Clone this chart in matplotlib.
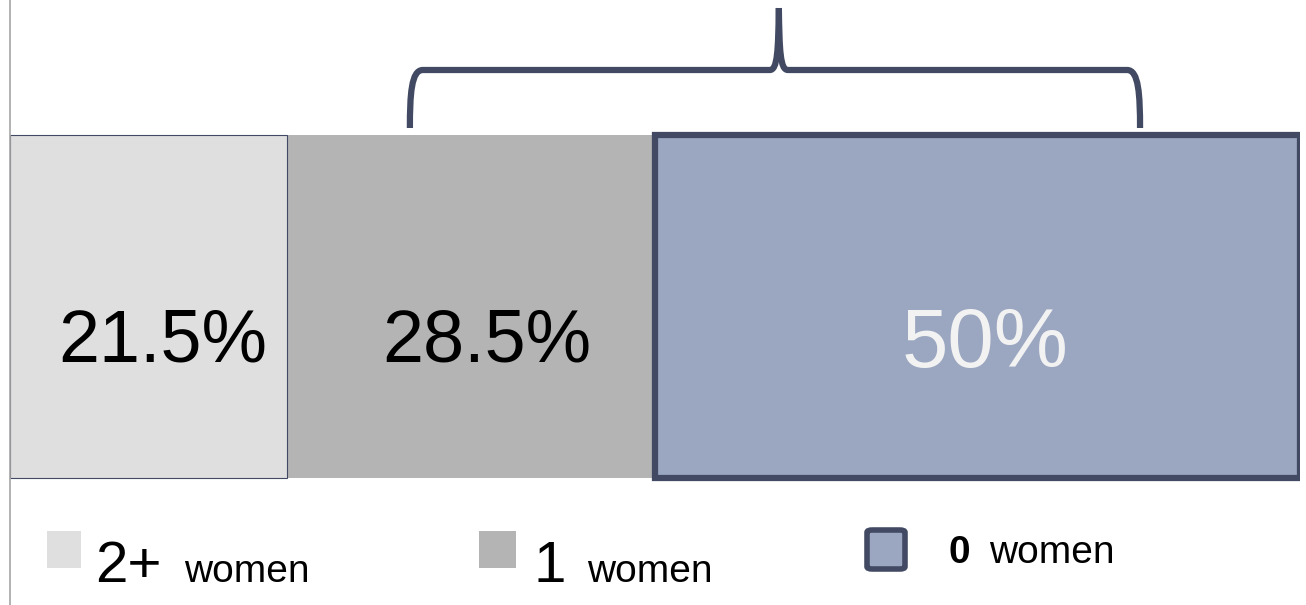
import matplotlib
matplotlib.use("Agg")
import matplotlib.pyplot as plt
from matplotlib.patches import Rectangle, FancyBboxPatch
from matplotlib.path import Path
from matplotlib.patches import PathPatch

plt.rcParams['font.family'] = ['Liberation Sans', 'DejaVu Sans']

categories = ["2+ women", "1 women", "0 women"]
values = [21.5, 28.5, 50.0]
labels = ["21.5%", "28.5%", "50%"]
colors = ["#DFDFDF", "#B4B4B4", "#9BA7C1"]
text_colors = ["#000000", "#000000", "#F2F2F2"]
dark = "#414A62"

W, H = 1306, 605
fig = plt.figure(figsize=(W / 100, H / 100), dpi=100)
ax = fig.add_axes([10 / W, 0, 1290 / W, 1])
ax.set_xlim(0, sum(values))
ax.set_ylim(H, 0)

bar_y = 306.5
bar_h = 343
left = 0
zorders = [2.5, 2, 3]
for i, (v, c) in enumerate(zip(values, colors)):
    if i == 0:
        ec, lw = dark, 0.8
    elif i == 1:
        ec, lw = "none", 0
    else:
        ec, lw = dark, 4.5
    ax.barh(bar_y, v, left=left, height=bar_h, color=c, edgecolor=ec,
            linewidth=lw, zorder=zorders[i])
    left += v

# value labels
centers = []
acc = 0
for v in values:
    centers.append(acc + v / 2)
    acc += v
sizes = [53, 53, 60]
offsets = [1.1, 1.25, 0.6]
ys = [342, 342, 345]
for cx, lab, tc, fs, off, yy in zip(centers, labels, text_colors, sizes, offsets, ys):
    ax.text(cx + off, yy, lab, ha="center", va="center", fontsize=fs,
            color=tc, zorder=5)

# brace
x0, x1 = 31.0, 87.6
xm = 59.6
yb, yh, yt = 128, 70, 8
r = 1.0
verts = [
    (x0, yb), (x0, yh + 25), (x0 + 0.1, yh), (x0 + r, yh),
    (xm - 0.7, yh), (xm - 0.1, yh), (xm - 0.05, yh - 20), (xm, yt),
]
codes = [Path.MOVETO, Path.CURVE4, Path.CURVE4, Path.CURVE4,
         Path.LINETO, Path.CURVE4, Path.CURVE4, Path.CURVE4]
p1 = Path(verts, codes)
verts2 = [
    (x1, yb), (x1, yh + 25), (x1 - 0.1, yh), (x1 - r, yh),
    (xm + 0.7, yh), (xm + 0.1, yh), (xm + 0.05, yh - 20), (xm, yt),
]
p2 = Path(verts2, codes)
for p in (p1, p2):
    ax.add_patch(PathPatch(p, fill=False, edgecolor=dark, lw=4.5,
                           capstyle="butt", joinstyle="round", zorder=4))

for s in ["top", "right", "bottom"]:
    ax.spines[s].set_visible(False)
ax.spines["left"].set_color("#A6A6A6")
ax.spines["left"].set_linewidth(1.2)
ax.set_xticks([])
ax.set_yticks([])
ax.patch.set_alpha(0)

# legend
def fx(x):
    return x / W

def fy(y):
    return 1 - y / H

fig.patches.append(Rectangle((fx(47), fy(568)), 34 / W, 37 / H,
                             transform=fig.transFigure, facecolor=colors[0],
                             edgecolor="none"))
fig.patches.append(Rectangle((fx(479), fy(568)), 37 / W, 37 / H,
                             transform=fig.transFigure, facecolor=colors[1],
                             edgecolor="none"))
fig.patches.append(FancyBboxPatch((fx(867), fy(569)), 38 / W, 39 / H,
                                  boxstyle="round,pad=0,rounding_size=0.004",
                                  transform=fig.transFigure,
                                  facecolor=colors[2], edgecolor=dark,
                                  linewidth=4))

fig.text(fx(95), fy(582), "2+", fontsize=42, va="baseline", ha="left")
fig.text(fx(184), fy(582), "women", fontsize=28, va="baseline", ha="left")
fig.text(fx(533), fy(582), "1", fontsize=42, va="baseline", ha="left")
fig.text(fx(587), fy(582), "women", fontsize=28, va="baseline", ha="left")
fig.text(fx(948), fy(563), "0", fontsize=28, fontweight="bold",
         va="baseline", ha="left")
fig.text(fx(989), fy(563), "women", fontsize=28, va="baseline", ha="left")

fig.savefig("out.png", dpi=100)
